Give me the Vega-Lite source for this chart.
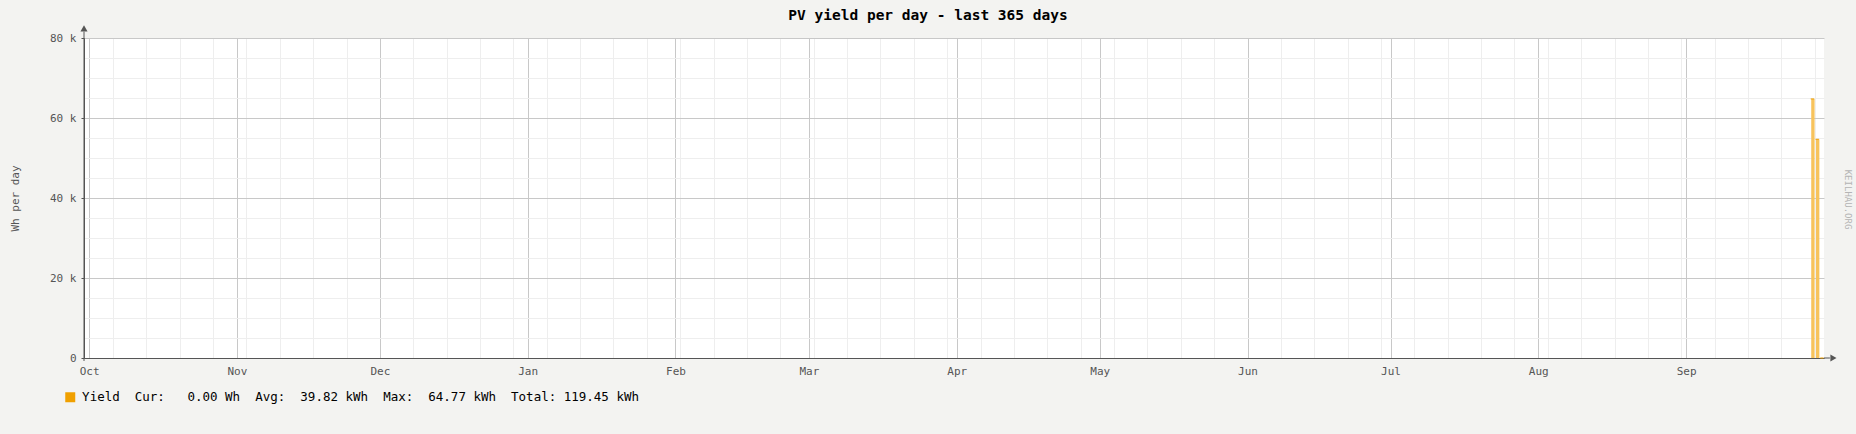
{
  "$schema": "https://vega.github.io/schema/vega-lite/v6.json",
  "autosize": {"type": "none"},
  "padding": {"left": 84, "top": 38, "right": 32, "bottom": 76},
  "width": 1740,
  "height": 320,
  "background": "#f3f3f1",
  "title": {
    "text": "PV yield per day - last 365 days",
    "font": "DejaVu Sans Mono",
    "fontSize": 14.5,
    "fontWeight": "bold",
    "color": "#000000",
    "anchor": "middle",
    "baseline": "top",
    "offset": 14.6,
    "dx": -26,
    "dy": 13
  },
  "data": {
    "values": [
      {"date": "2025-09-27T00:00:00", "wh": 64770, "series": "Yield"},
      {"date": "2025-09-28T00:00:00", "wh": 54680, "series": "Yield"},
      {"date": "2025-09-29T00:00:00", "wh": 0, "series": "Yield"}
    ]
  },
  "resolve": {"axis": {"x": "independent", "y": "independent"}},
  "layer": [
    {
      "mark": {"type": "bar", "color": "#f7c35c", "binSpacing": 1.4},
      "encoding": {
        "x": {
          "field": "date",
          "type": "temporal",
          "timeUnit": "yearmonthdate",
          "scale": {
            "domain": [
              {"year": 2024, "month": 9, "date": 29, "hours": 22, "minutes": 20},
              {"year": 2025, "month": 9, "date": 29, "hours": 22, "minutes": 20}
            ],
            "nice": false
          },
          "axis": {
            "orient": "bottom",
            "tickCount": {"interval": "week", "step": 1},
            "grid": true,
            "gridColor": "#eeeeee",
            "labels": false,
            "ticks": false,
            "domain": false,
            "title": null
          }
        },
        "y": {
          "field": "wh",
          "type": "quantitative",
          "scale": {"domain": [0, 80000], "nice": false},
          "axis": {
            "orient": "left",
            "values": [5000, 10000, 15000, 25000, 30000, 35000, 45000, 50000, 55000, 65000, 70000, 75000],
            "grid": true,
            "gridColor": "#eeeeee",
            "labels": false,
            "ticks": false,
            "domain": false,
            "title": null
          }
        }
      }
    },
    {
      "mark": {"type": "tick", "thickness": 1, "size": 3.4, "opacity": 1},
      "encoding": {
        "x": {
          "field": "date",
          "type": "temporal",
          "timeUnit": "yearmonthdate",
          "bandPosition": 0.5,
          "axis": {
            "orient": "bottom",
            "tickCount": {"interval": "month", "step": 1},
            "format": "%b",
            "grid": true,
            "gridColor": "#c8c8c8",
            "ticks": false,
            "domain": true,
            "domainColor": "#555555",
            "labelFont": "DejaVu Sans Mono",
            "labelFontSize": 11,
            "labelColor": "#555555",
            "labelPadding": 7,
            "labelFlush": false,
            "labelOverlap": false,
            "title": null
          }
        },
        "y": {
          "field": "wh",
          "type": "quantitative",
          "axis": {
            "orient": "left",
            "values": [0, 20000, 40000, 60000, 80000],
            "labelExpr": "datum.value == 0 ? '0' : (datum.value / 1000) + ' k'",
            "grid": true,
            "gridColor": "#c8c8c8",
            "ticks": true,
            "tickSize": 3,
            "tickColor": "#555555",
            "domain": true,
            "domainColor": "#555555",
            "labelFont": "DejaVu Sans Mono",
            "labelFontSize": 11,
            "labelColor": "#555555",
            "labelPadding": 5,
            "title": "Wh per day",
            "titleFont": "DejaVu Sans Mono",
            "titleFontSize": 11,
            "titleFontWeight": "normal",
            "titleColor": "#555555",
            "titleX": -69,
            "titleY": 160,
            "titleAngle": 270,
            "titleAlign": "center",
            "titleBaseline": "middle"
          }
        },
        "color": {
          "field": "series",
          "type": "nominal",
          "scale": {"range": ["#f0a000"]},
          "legend": {
            "orient": "none",
            "legendX": -20,
            "legendY": 353,
            "title": null,
            "padding": 0,
            "symbolType": "square",
            "symbolSize": 100,
            "symbolStrokeWidth": 0,
            "labelOffset": 5.6,
            "labelLimit": 1000,
            "labelFont": "DejaVu Sans Mono",
            "labelFontSize": 12.5,
            "labelColor": "#000000",
            "labelExpr": "'Yield\u00a0\u00a0Cur:\u00a0\u00a0\u00a00.00\u00a0Wh\u00a0\u00a0Avg:\u00a0\u00a039.82\u00a0kWh\u00a0\u00a0Max:\u00a0\u00a064.77\u00a0kWh\u00a0\u00a0Total:\u00a0119.45\u00a0kWh'",
            "encode": {"symbols": {"update": {"fill": {"value": "#f0a000"}, "stroke": {"value": "#f0a000"}, "opacity": {"value": 1}}}}
          }
        }
      }
    },
    {
      "data": {"values": [{}]},
      "mark": {"type": "rule", "color": "#555555", "strokeWidth": 1},
      "encoding": {
        "x": {"datum": {"year": 2025, "month": 9, "date": 29, "hours": 22, "minutes": 20}, "type": "temporal", "axis": null},
        "x2": {"datum": {"year": 2025, "month": 10, "date": 1, "hours": 4}},
        "y": {
          "datum": 0,
          "type": "quantitative",
          "axis": {
            "orient": "right",
            "labels": false,
            "ticks": false,
            "domain": false,
            "grid": false,
            "title": "KEILHAU.ORG",
            "titleFont": "DejaVu Sans Mono",
            "titleFontSize": 9,
            "titleFontWeight": "normal",
            "titleColor": "#b4b4b4",
            "titleAngle": 90,
            "titleX": 23,
            "titleY": 161,
            "titleAlign": "center",
            "titleBaseline": "middle"
          }
        }
      }
    },
    {
      "data": {"values": [{}]},
      "mark": {"type": "rule", "color": "#555555", "strokeWidth": 1},
      "encoding": {
        "x": {"datum": {"year": 2024, "month": 9, "date": 29, "hours": 22, "minutes": 20}, "type": "temporal", "axis": null},
        "y": {"datum": -750, "type": "quantitative", "axis": null},
        "y2": {"datum": 81600}
      }
    },
    {
      "data": {"values": [{}]},
      "mark": {"type": "point", "shape": "triangle-right", "filled": true, "color": "#555555", "size": 50, "opacity": 1},
      "encoding": {
        "x": {"datum": {"year": 2025, "month": 10, "date": 1, "hours": 22}, "type": "temporal", "axis": null},
        "y": {"datum": 0, "type": "quantitative", "axis": null}
      }
    },
    {
      "data": {"values": [{}]},
      "mark": {"type": "point", "shape": "triangle-up", "filled": true, "color": "#555555", "size": 50, "opacity": 1},
      "encoding": {
        "x": {"datum": {"year": 2024, "month": 9, "date": 29, "hours": 22, "minutes": 20}, "type": "temporal", "axis": null},
        "y": {"datum": 82400, "type": "quantitative", "axis": null}
      }
    }
  ],
  "config": {
    "view": {"fill": "#ffffff", "stroke": null}
  }
}
